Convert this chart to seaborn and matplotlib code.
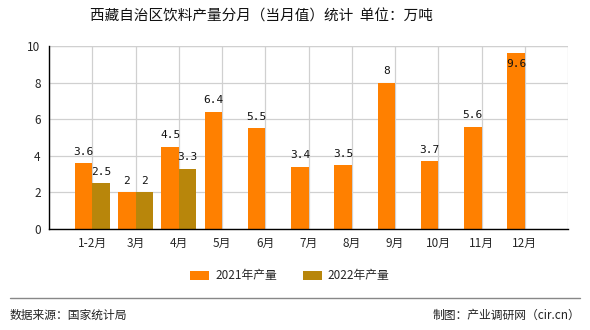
import matplotlib
matplotlib.use("Agg")
import matplotlib.pyplot as plt
import seaborn as sns
import pandas as pd
import numpy as np

categories = ["1-2月", "3月", "4月", "5月", "6月", "7月", "8月", "9月", "10月", "11月", "12月"]
values_2021 = [3.6, 2, 4.5, 6.4, 5.5, 3.4, 3.5, 8, 3.7, 5.6, 9.6]
values_2022 = [2.5, 2, 3.3, None, None, None, None, None, None, None, None]
series_names = ["2021年产量", "2022年产量"]
colors = ["#FF8000", "#B8860B"]
yticks = [0, 2, 4, 6, 8, 10]

sns.set_theme(style="white")
plt.rcParams['font.family'] = ['Noto Sans CJK SC', 'DejaVu Sans']

rows = []
for c, v in zip(categories, values_2021):
    rows.append({"月份": c, "产量": v, "系列": series_names[0]})
for c, v in zip(categories, values_2022):
    rows.append({"月份": c, "产量": np.nan if v is None else v, "系列": series_names[1]})
df = pd.DataFrame(rows)

fig = plt.figure(figsize=(5.9, 3.3), dpi=100)
ax = fig.add_axes([49/590, 1 - 229/330, (568-49)/590, (229-46)/330])

sns.barplot(data=df, x="月份", y="产量", hue="系列", order=categories,
            hue_order=series_names, palette=colors, width=0.8, dodge=True,
            saturation=1, ax=ax, legend=False, linewidth=0, errorbar=None)

ax.set_xlim(-1, len(categories))
ax.set_ylim(0, 10)
ax.set_yticks(yticks)
ax.set_yticklabels([str(t) for t in yticks], fontsize=8.5)
ax.set_xticks(range(-1, len(categories) + 1))
ax.set_xticklabels([""] + categories + [""], fontsize=8.5)
ax.set_xlabel("")
ax.set_ylabel("")
ax.grid(True, color="#d0d0d0", linewidth=0.9)
ax.set_axisbelow(True)
for s in ["top", "right"]:
    ax.spines[s].set_visible(False)
for s in ["left", "bottom"]:
    ax.spines[s].set_color("black")
    ax.spines[s].set_linewidth(1.0)
ax.tick_params(axis="both", direction="out", length=3, width=1, color="black", pad=3)
ax.axhline(10, color="#d0d0d0", linewidth=0.9, zorder=0)

# value labels
for i, (v1, v2) in enumerate(zip(values_2021, values_2022)):
    for v, off in ((v1, -0.2), (v2, 0.2)):
        if v is None:
            continue
        lbl = f"{v:g}"
        if v + 0.75 > 10:
            ax.text(i + off, v - 0.3, lbl, ha="center", va="top", fontsize=8,
                    family="DejaVu Sans Mono", color="#111111")
        else:
            ax.text(i + off, v + 0.35, lbl, ha="center", va="bottom", fontsize=8,
                    family="DejaVu Sans Mono", color="#111111")

# legend
from matplotlib.patches import Patch
handles = [Patch(facecolor=c, edgecolor="none") for c in colors]
fig.legend(handles, series_names, loc="center", bbox_to_anchor=(290/590, 1 - 276/330),
           ncol=2, frameon=False, fontsize=8.5, handlelength=1.6, handleheight=0.8,
           columnspacing=2.2, handletextpad=0.5)

# title
fig.text(261/590, 1 - 17/330, "西藏自治区饮料产量分月（当月值）统计  单位：万吨",
         ha="center", va="center", fontsize=10.5, color="#111111")

# footer
fig.add_artist(plt.Line2D([10/590, 580/590], [1 - 298/330, 1 - 298/330],
                          color="#888888", linewidth=1))
fig.text(10/590, 1 - 315/330, "数据来源：国家统计局", ha="left", va="center",
         fontsize=8.5, color="#222222")
fig.text(580/590, 1 - 315/330, "制图：产业调研网（cir.cn）", ha="right", va="center",
         fontsize=8.5, color="#222222")

fig.savefig("out.png", dpi=100, facecolor="white")
